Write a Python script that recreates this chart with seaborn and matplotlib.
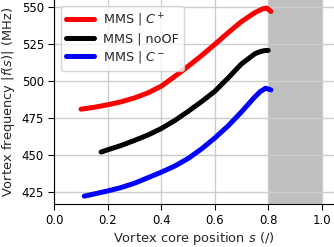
import numpy as np
import pandas as pd
import matplotlib
matplotlib.use("Agg")
import matplotlib.pyplot as plt
import seaborn as sns

# values
s_cplus = [0.10, 0.15, 0.20, 0.25, 0.30, 0.35, 0.40, 0.45, 0.50, 0.55, 0.60, 0.65, 0.70, 0.75, 0.78, 0.795, 0.81]
f_cplus = [481.0, 482.3, 484.0, 486.0, 488.6, 492.0, 496.5, 503.0, 509.8, 517.0, 524.6, 532.5, 540.0, 546.0, 548.6, 549.0, 546.8]

s_noof = [0.175, 0.20, 0.25, 0.30, 0.35, 0.40, 0.45, 0.50, 0.55, 0.60, 0.65, 0.70, 0.75, 0.77, 0.785, 0.80]
f_noof = [452.2, 453.7, 456.6, 460.0, 463.6, 468.0, 473.3, 479.5, 486.0, 493.0, 502.0, 511.5, 518.3, 519.8, 520.4, 520.6]

s_cminus = [0.112, 0.15, 0.20, 0.25, 0.30, 0.35, 0.40, 0.45, 0.50, 0.55, 0.60, 0.65, 0.70, 0.75, 0.77, 0.79, 0.81]
f_cminus = [422.5, 424.0, 426.0, 428.3, 431.2, 434.9, 438.6, 442.7, 447.8, 454.2, 461.6, 469.8, 479.2, 489.3, 492.8, 495.1, 494.0]

series_labels = ["MMS | $C^+$", "MMS | noOF", "MMS | $C^-$"]
series_colors = ["red", "black", "blue"]

sns.set_style("ticks")
plt.rcParams["font.family"] = ["DejaVu Sans"]
plt.rcParams["mathtext.fontset"] = "dejavusans"

fig = plt.figure(figsize=(3.34, 2.47), dpi=100)
ax = fig.add_axes([0.1626, 0.174, 1.0 - 0.1626, 1.0 - 0.174])

curves = [(s_cplus, f_cplus), (s_noof, f_noof), (s_cminus, f_cminus)]
for (s, f), lab, col in zip(curves, series_labels, series_colors):
    df = pd.DataFrame({"s": s, "f": f})
    sns.lineplot(data=df, x="s", y="f", color=col, lw=3.6, label=lab, ax=ax)

# region outside the valid range
ax.axvspan(0.8, 1.0, color="gray", alpha=0.5, lw=0, zorder=0.5)

ax.set_xlim(0, 1.046)
ax.set_ylim(417.2, 554.5)
ax.set_xticks([0.0, 0.2, 0.4, 0.6, 0.8, 1.0])
ax.set_yticks([425, 450, 475, 500, 525, 550])
ax.grid(True, color="#cccccc", lw=1.0, zorder=0)
ax.set_axisbelow(True)
for side in ["top", "right"]:
    ax.spines[side].set_visible(False)
ax.spines["left"].set_color("black")
ax.spines["bottom"].set_color("black")
ax.tick_params(labelsize=8.5, colors="black", length=4)

ax.set_xlabel("Vortex core position $s$ (/)", fontsize=9.4, labelpad=1.5)
ax.set_ylabel("Vortex frequency $|f(s)|$ (MHz)", fontsize=9.4, labelpad=3)

ax.legend(loc="upper left", fontsize=9.2, frameon=True, handlelength=2.2,
          handletextpad=0.7, labelspacing=0.3, borderaxespad=0.5,
          framealpha=0.8, edgecolor="#cccccc")

fig.savefig("out.png", dpi=100)
